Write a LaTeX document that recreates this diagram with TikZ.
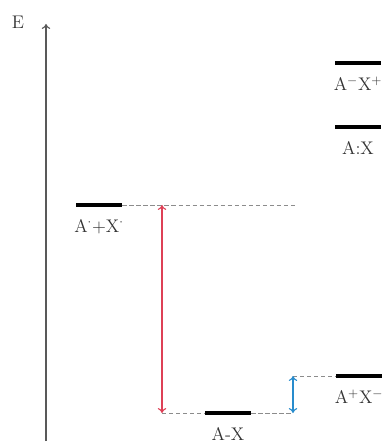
\documentclass[tikz,border=0pt]{standalone}
\usetikzlibrary{positioning,arrows.meta}
\definecolor{redarr}{RGB}{222,64,86}
\definecolor{bluearr}{RGB}{40,140,205}
\tikzset{
  level/.style={fill=black,inner sep=0pt,minimum width=11.5mm,minimum height=1mm},
  lab/.style={text=black!80,inner sep=1pt,font=\fontsize{13}{15}\selectfont},
  guide/.style={densely dashed,black!45,thin}
}
\begin{document}
\begin{tikzpicture}[x=0.25mm,y=-0.25mm,>={To[length=3.5pt,width=6pt]}]
\useasboundingbox (0,0) rectangle (391,447);
% energy axis
\coordinate (e0) at (46,441);
\coordinate (e1) at (46,24);
\draw[->,black!65,thick] (e0) -- (e1);
\node[lab] (E) at (18,22) {E};
% levels
\node[level] (rad) at (99,205) {};
\node[level] (cov) at (228,413) {};
\node[level] (ionb) at (359,376) {};
\node[level] (iona) at (358,63) {};
\node[level] (dat) at (358,127) {};
\node[lab,below=2.5mm of rad] (radl) {A$^{\cdot}$+X$^{\cdot}$};
\node[lab,below=2.5mm of cov] (covl) {A-X};
\node[lab,below=2.5mm of ionb] (ionbl) {A$^{+}$X$^{-}$};
\node[lab,below=2.5mm of iona] (ional) {A$^{-}$X$^{+}$};
\node[lab,below=2.5mm of dat] (datl) {A:X};
% guide lines
\coordinate (r1) at (162,205);
\coordinate (r2) at (296,205);
\coordinate (c1) at (162,413);
\coordinate (b1) at (293,413);
\coordinate (b2) at (293,376);
\draw[guide] (rad.east) -- (r2);
\draw[guide] (c1) -- (cov.west);
\draw[guide] (cov.east) -- (b1);
\draw[guide] (b2) -- (ionb.west);
% energy gaps
\draw[<->,redarr,thick] (r1) -- (c1);
\draw[<->,bluearr,thick] (b2) -- (b1);
\end{tikzpicture}
\end{document}
